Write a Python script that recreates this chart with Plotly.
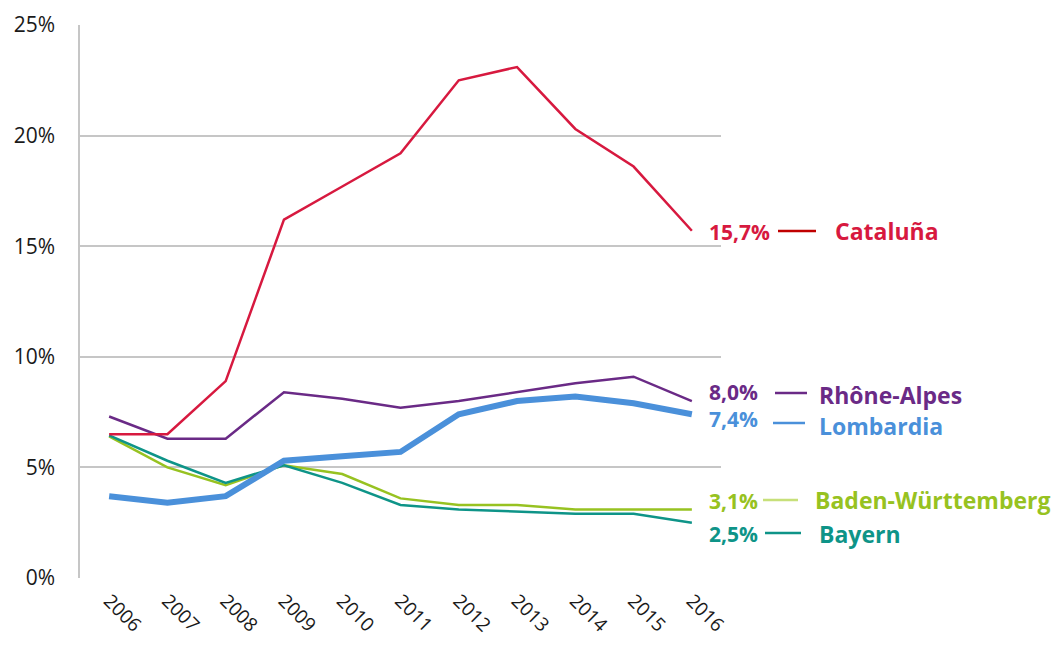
import plotly.graph_objects as go

years = [2006, 2007, 2008, 2009, 2010, 2011, 2012, 2013, 2014, 2015, 2016]
cataluna = [6.5, 6.5, 8.9, 16.2, 17.7, 19.2, 22.5, 23.1, 20.3, 18.6, 15.7]
rhone_alpes = [7.3, 6.3, 6.3, 8.4, 8.1, 7.7, 8.0, 8.4, 8.8, 9.1, 8.0]
lombardia = [3.7, 3.4, 3.7, 5.3, 5.5, 5.7, 7.4, 8.0, 8.2, 7.9, 7.4]
baden_wurttemberg = [6.4, 5.0, 4.2, 5.1, 4.7, 3.6, 3.3, 3.3, 3.1, 3.1, 3.1]
bayern = [6.45, 5.3, 4.3, 5.1, 4.3, 3.3, 3.1, 3.0, 2.9, 2.9, 2.5]
value_labels = ["15,7%", "8,0%", "7,4%", "3,1%", "2,5%"]
names = ["Cataluña", "Rhône-Alpes", "Lombardia", "Baden-Württemberg", "Bayern"]
y_ticks = [0, 5, 10, 15, 20, 25]
y_ticktext = ["0%", "5%", "10%", "15%", "20%", "25%"]

series = [cataluna, rhone_alpes, lombardia, baden_wurttemberg, bayern]

# styles (screen pixel targets)
styles = [
    dict(c="#D7193F", w=2.5, lc="#C00000", ly=232, sy=231, ny=231, x0=778, x1=816, nx=833),
    dict(c="#6A2A86", w=2.5, lc="#6A2A86", ly=392, sy=393, ny=395, x0=775, x1=807, nx=817),
    dict(c="#4A90DA", w=6, lc="#4A90DA", ly=419, sy=423, ny=426, x0=773, x1=805, nx=817),
    dict(c="#97C221", w=2.5, lc="#C7E07A", ly=501, sy=500, ny=500, x0=763, x1=798, nx=813),
    dict(c="#0E9488", w=2.5, lc="#0E9488", ly=534, sy=533, ny=534, x0=765, x1=801, nx=817),
]

OFF = 8  # page body margin
W, H = 1064 - 2 * OFF, 645 - 2 * OFF
L, T = 80 - OFF, 25 - OFF
PR, PB = 721 - OFF, 578 - OFF  # plot right / bottom in figure coords
R, B = W - PR, H - PB
pw, ph = PR - L, PB - T

def px(p):
    return (p - OFF - L) / pw

def py(p):
    return (PB - (p - OFF)) / ph

fig = go.Figure()
order = [3, 4, 1, 0, 2]
for i in order:
    s = styles[i]
    fig.add_trace(go.Scatter(x=years, y=series[i], mode="lines", name=names[i],
                             line=dict(color=s["c"], width=s["w"]), cliponaxis=False))

FONT = "Open Sans"
annotations = []
shapes = []
for i, s in enumerate(styles):
    annotations.append(dict(x=px(707), y=py(s["ly"]), xref="paper", yref="paper",
                            text=value_labels[i], showarrow=False, xanchor="left", yanchor="middle",
                            font=dict(family=FONT, size=21, color=s["c"], weight="bold")))
    annotations.append(dict(x=px(s["nx"]), y=py(s["ny"]), xref="paper", yref="paper",
                            text=names[i], showarrow=False, xanchor="left", yanchor="middle",
                            font=dict(family=FONT, size=23, color=s["c"], weight="bold")))
    shapes.append(dict(type="line", xref="paper", yref="paper",
                       x0=px(s["x0"]), x1=px(s["x1"]), y0=py(s["sy"]), y1=py(s["sy"]),
                       line=dict(color=s["lc"], width=2.5)))

fig.update_layout(
    width=W, height=H,
    margin=dict(l=L, r=R, t=T, b=B),
    paper_bgcolor="white", plot_bgcolor="white",
    showlegend=False,
    annotations=annotations, shapes=shapes,
    xaxis=dict(range=[2005.5, 2016.5], tickvals=years, ticktext=[str(y) for y in years],
               tickangle=45, showgrid=False, zeroline=False, automargin=False,
               ticklabelstandoff=7,
               tickfont=dict(family="Open Sans", size=19, color="#1a1a1a"),
               showline=False),
    yaxis=dict(range=[0, 25], tickvals=y_ticks, ticktext=y_ticktext,
               showgrid=True, gridcolor="#C6C6C6", gridwidth=1.5, zeroline=False,
               showline=True, linecolor="#C6C6C6", linewidth=1.5, automargin=False,
               ticklabelstandoff=19,
               tickfont=dict(family="Open Sans", size=21, color="#1a1a1a")),
)

fig.write_html("out.html")
